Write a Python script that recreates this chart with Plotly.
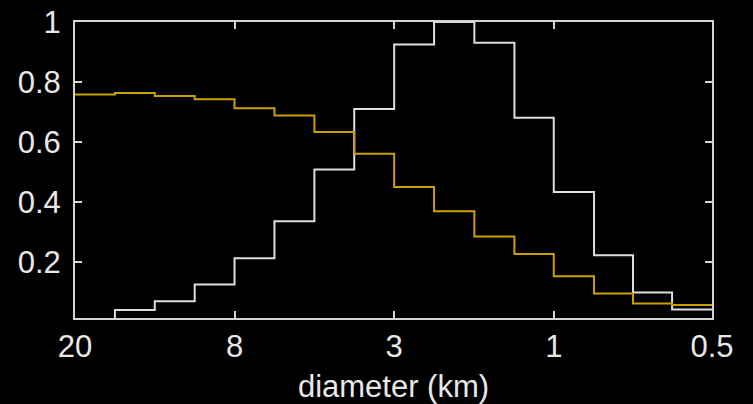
import plotly.graph_objects as go

# bin edges (km), largest to smallest
bin_edges = [20, 15.87, 12.6, 10.0, 7.94, 6.3, 5.0, 3.97, 3.15, 2.5, 1.98,
             1.57, 1.25, 0.99, 0.79, 0.63, 0.5]

# normalized histogram (white)
white_vals = [0.0, 0.04, 0.069, 0.125, 0.212, 0.336, 0.508, 0.71, 0.925, 1.0,
              0.931, 0.681, 0.433, 0.222, 0.098, 0.041]

# cumulative-type fraction (yellow)
yellow_vals = [0.758, 0.763, 0.753, 0.742, 0.712, 0.688, 0.633, 0.561, 0.45,
               0.369, 0.285, 0.226, 0.152, 0.095, 0.061, 0.056]

x_tickvals = [20, 7.94, 3.15, 1.25, 0.5]
x_ticktext = ["20", "8", "3", "1", "0.5"]
y_tickvals = [0.2, 0.4, 0.6, 0.8, 1.0]
y_ticktext = ["0.2", "0.4", "0.6", "0.8", "1"]

FONT = "Liberation Sans, Arial, sans-serif"

fig = go.Figure()
fig.add_trace(go.Scatter(
    x=bin_edges, y=white_vals + [white_vals[-1]],
    mode="lines", line=dict(shape="hv", color="#dedede", width=2),
    showlegend=False, hoverinfo="skip"))
fig.add_trace(go.Scatter(
    x=bin_edges, y=yellow_vals + [yellow_vals[-1]],
    mode="lines", line=dict(shape="hv", color="#c9a200", width=2),
    showlegend=False, hoverinfo="skip"))

axis_common = dict(
    showgrid=False, zeroline=False, showline=True, linecolor="#d4d4d4",
    linewidth=2, mirror="ticks", ticks="inside", ticklen=7, tickwidth=1.5,
    tickcolor="#d4d4d4", automargin=False,
    tickfont=dict(family=FONT, size=31, color="#e8e8e8"),
)

fig.update_layout(
    width=753, height=404,
    margin=dict(l=75, r=41, t=22, b=86),
    paper_bgcolor="black", plot_bgcolor="black",
    xaxis=dict(type="log", range=[1.30103, -0.30103],
               tickvals=x_tickvals, ticktext=x_ticktext,
               title=dict(text="diameter (km)", standoff=12,
                          font=dict(family=FONT, size=31, color="#e8e8e8")),
               **axis_common),
    yaxis=dict(range=[0.013, 1.0], tickvals=y_tickvals, ticktext=y_ticktext,
               ticklabelstandoff=6, **axis_common),
)

fig.write_html("out.html")
